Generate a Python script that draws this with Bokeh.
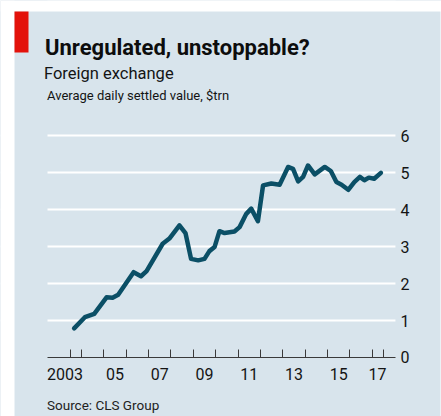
from bokeh.plotting import figure
from bokeh.models import Range1d, FixedTicker, Label, BoxAnnotation
from bokeh.embed import file_html
from bokeh.resources import INLINE

# ---- data ----
years = [2003.67, 2004.15, 2004.57, 2005.12, 2005.39, 2005.64, 2006.33, 2006.66,
         2006.91, 2007.63, 2007.93, 2008.38, 2008.65, 2008.90, 2009.22, 2009.50,
         2009.72, 2009.95, 2010.17, 2010.40, 2010.84, 2011.07, 2011.37, 2011.59,
         2011.89, 2012.12, 2012.49, 2012.86, 2013.24, 2013.46, 2013.69, 2013.91,
         2014.13, 2014.43, 2014.88, 2015.15, 2015.40, 2015.63, 2015.93, 2016.20,
         2016.45, 2016.65, 2016.85, 2017.09, 2017.39]
value_trn = [0.79, 1.09, 1.18, 1.63, 1.62, 1.70, 2.31, 2.20,
             2.34, 3.08, 3.22, 3.58, 3.37, 2.67, 2.63, 2.67,
             2.88, 2.99, 3.42, 3.37, 3.41, 3.53, 3.89, 4.03,
             3.69, 4.66, 4.71, 4.68, 5.16, 5.11, 4.77, 4.89,
             5.20, 4.96, 5.16, 5.05, 4.75, 4.68, 4.54, 4.75,
             4.89, 4.80, 4.87, 4.84, 5.00]

year_ticks = [2003.5, 2004, 2005, 2006, 2007, 2008, 2009, 2010, 2011, 2012,
              2013, 2014, 2015, 2016, 2017, 2017.5]
label_pos = [2003.26, 2005.5, 2007.5, 2009.5, 2011.5, 2013.5, 2015.5, 2017.24]
label_txt = ["2003", "05", "07", "09", "11", "13", "15", "17"]
y_ticks = [0, 1, 2, 3, 4, 5, 6]
grid_ticks = [1, 2, 3, 4, 5, 6]
axis_start, axis_end = 2002.48, 2018.04   # extent of axis line and gridlines

title = "Unregulated, unstoppable?"
subtitle = "Foreign exchange"
unit_txt = "Average daily settled value, $trn"
source = "Source: CLS Group"

BG = "#d8e4ec"
LINE = "#0b4f66"
TXT = "#141414"
FONT = "Roboto"

W, H = 441, 416   # whole canvas is the plot frame
p = figure(width=W, height=H, output_backend="svg", toolbar_location=None,
           x_range=Range1d(2000.3775, 2020.100), y_range=Range1d(-1.598, 9.667),
           y_axis_location="right",
           min_border_left=0, min_border_right=0, min_border_top=0,
           min_border_bottom=0)
p.extra_x_ranges = {"px": Range1d(0, W)}
p.extra_y_ranges = {"px": Range1d(0, H)}
p.background_fill_color = BG
p.border_fill_color = BG
p.outline_line_color = None

p.xgrid.visible = False
p.ygrid.ticker = FixedTicker(ticks=grid_ticks)
p.ygrid.grid_line_color = "white"
p.ygrid.grid_line_width = 2
# keep gridlines only between axis_start and axis_end
for kw in (dict(right=axis_start), dict(left=axis_end)):
    p.add_layout(BoxAnnotation(fill_color=BG, fill_alpha=1, line_color=None,
                               level="underlay", **kw))

ya = p.yaxis[0]
ya.fixed_location = axis_end
ya.ticker = FixedTicker(ticks=y_ticks)
ya.axis_line_color = None
ya.major_tick_line_color = None
ya.minor_tick_line_color = None
ya.major_tick_out = 0
ya.major_tick_in = 0
ya.major_label_standoff = 5
ya.major_label_text_font = FONT
ya.major_label_text_font_size = "16px"
ya.major_label_text_color = TXT

xa = p.xaxis[0]
xa.fixed_location = 0
xa.bounds = (axis_start, axis_end)
xa.ticker = FixedTicker(ticks=label_pos, minor_ticks=year_ticks)
xa.major_label_overrides = {pos: txt for pos, txt in zip(label_pos, label_txt)}
xa.axis_line_color = "#3a3a3a"
xa.axis_line_width = 1.2
xa.major_tick_line_color = None
xa.minor_tick_line_color = "#3a3a3a"
xa.minor_tick_line_width = 1
xa.minor_tick_in = 8
xa.minor_tick_out = 0
xa.major_tick_out = 0
xa.major_tick_in = 0
xa.major_label_standoff = 11
xa.major_label_text_font = FONT
xa.major_label_text_font_size = "16px"
xa.major_label_text_color = TXT

p.line(years, value_trn, line_width=4.5, color=LINE, line_join="round", line_cap="round")


def box(left, right, bottom, top, color):
    p.add_layout(BoxAnnotation(left=left, right=right, bottom=bottom, top=top,
                               x_range_name="px", y_range_name="px",
                               fill_color=color, fill_alpha=1, line_color=None))


# white page edges, then the red tag
box(0, 14, 0, H, "white")
box(0, W, H - 11, H, "white")
box(440, W, 0, H, "white")
box(14, 28, H - 52, H - 11, "#e3120b")


def lab(txt, x, y, size, bold=False, color=TXT):
    p.add_layout(Label(x=x, y=y, x_range_name="px", y_range_name="px", text=txt,
                       text_font=FONT, text_font_size=size,
                       text_font_style="bold" if bold else "normal",
                       text_color=color, text_baseline="alphabetic",
                       text_align="left"))


lab(title, 44.5, H - 46.5, "22px", bold=True, color="#0d0d0d")
lab(subtitle, 43.5, H - 73, "16.5px")
lab(unit_txt, 46.5, H - 94.5, "13px")
lab(source, 46.5, H - 404, "13.5px", color="#222222")

open("out.html", "w").write(file_html(p, INLINE))
